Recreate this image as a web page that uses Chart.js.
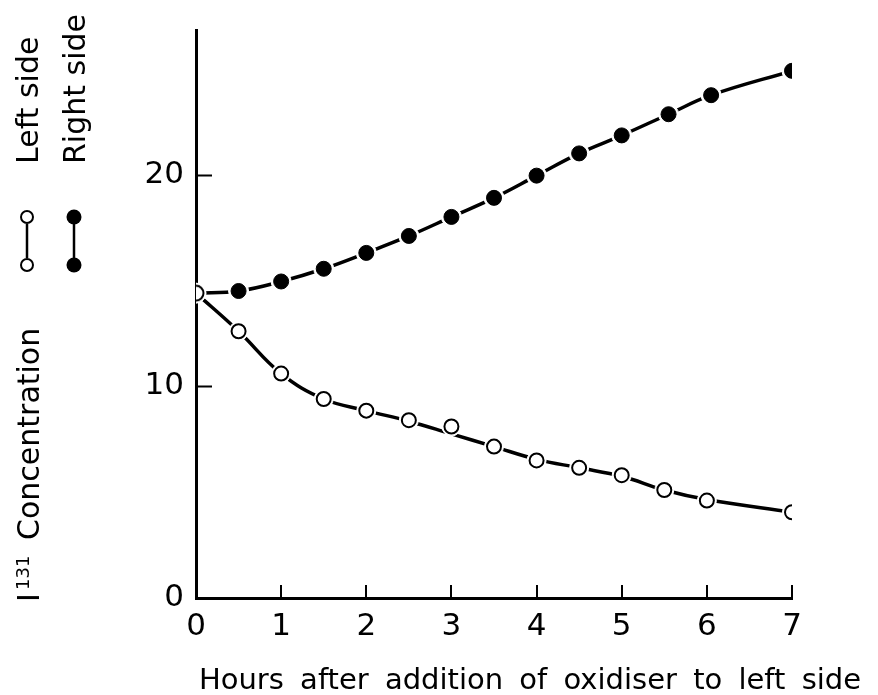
<!DOCTYPE html>
<html>
<head>
<meta charset="utf-8">
<script src="https://cdn.jsdelivr.net/npm/chart.js@4.4.1/dist/chart.umd.min.js"></script>
<style>
  html, body { margin: 0; padding: 0; background: #fff; }
  #c { display: block; }
</style>
</head>
<body>
<canvas id="c" width="878" height="695"></canvas>
<script>
// ---- data ----
const leftHours  = [0, 0.5, 1, 1.5, 2, 2.5, 3, 3.5, 4, 4.5, 5, 5.5, 6, 7];
const leftSide   = [14.4, 12.6, 10.6, 9.4, 8.85, 8.4, 8.1, 7.15, 6.5, 6.15, 5.8, 5.1, 4.6, 4.05];
const leftCurve  = [14.4, 12.6, 10.6, 9.4, 8.85, 8.35, 7.75, 7.15, 6.55, 6.15, 5.75, 5.1, 4.65, 4.05];
const rightHours = [0, 0.5, 1, 1.5, 2, 2.5, 3, 3.5, 4, 4.5, 5, 5.55, 6.05, 7];
const rightSide  = [14.4, 14.5, 14.95, 15.55, 16.3, 17.1, 18.0, 18.9, 19.95, 21.0, 21.85, 22.85, 23.75, 24.9];
const xTicks = [0, 1, 2, 3, 4, 5, 6, 7];
const yTicks = [0, 10, 20];
const xTitle = 'Hours after addition of oxidiser to left side';
const yTitleMain = 'Concentration';
const yTitleIso = 'I';
const yTitleSup = '131';
const legendLeft = 'Left side';
const legendRight = 'Right side';

const FONT = '"DejaVu Sans", sans-serif';
const pts = (xs, ys) => xs.map((x, i) => ({ x: x, y: ys[i] }));

// half open / half filled marker for the shared starting point
function halfMarker() {
  const cv = document.createElement('canvas');
  cv.width = 20; cv.height = 20;
  const g = cv.getContext('2d');
  g.beginPath(); g.arc(10, 10, 7.5, 0, Math.PI * 2); g.fillStyle = '#fff'; g.fill();
  g.beginPath(); g.moveTo(10, 10); g.arc(10, 10, 7.5, Math.PI / 2, Math.PI * 1.5); g.closePath();
  g.fillStyle = '#000'; g.fill();
  g.beginPath(); g.arc(10, 10, 7.5, 0, Math.PI * 2); g.lineWidth = 2; g.strokeStyle = '#000'; g.stroke();
  return cv;
}
const half = halfMarker();

const decorations = {
  id: 'decorations',
  afterDraw(chart) {
    const ctx = chart.ctx;
    const xs = chart.scales.x, ys = chart.scales.y;
    const x0 = xs.getPixelForValue(0), yb = ys.getPixelForValue(0);
    ctx.save();
    ctx.strokeStyle = '#000';
    ctx.lineWidth = 2;
    // inward ticks
    yTicks.forEach(v => {
      if (v === 0) return;
      const p = Math.round(ys.getPixelForValue(v)) + 0.5;
      ctx.beginPath(); ctx.moveTo(x0, p); ctx.lineTo(x0 + 16, p); ctx.stroke();
    });
    xTicks.forEach(v => {
      if (v === 0) return;
      const p = Math.round(xs.getPixelForValue(v));
      ctx.beginPath(); ctx.moveTo(p, yb); ctx.lineTo(p, yb - 13); ctx.stroke();
    });
    // x title
    ctx.fillStyle = '#000';
    ctx.font = '29px ' + FONT;
    ctx.textAlign = 'center';
    ctx.textBaseline = 'alphabetic';
    try { ctx.wordSpacing = '7px'; } catch (e) {}
    ctx.fillText(xTitle, 530, 689);
    try { ctx.wordSpacing = '0px'; } catch (e) {}
    // rotated y title + legend
    const rot = (txt, font, bx, by) => {
      ctx.save();
      ctx.font = font;
      ctx.textAlign = 'left';
      ctx.translate(bx, by);
      ctx.rotate(-Math.PI / 2);
      ctx.fillText(txt, 0, 0);
      ctx.restore();
    };
    rot(yTitleIso, '30px ' + FONT, 39, 602);
    rot(yTitleSup, '18px ' + FONT, 29, 590);
    rot(yTitleMain, '30px ' + FONT, 39, 540);
    rot(legendLeft, '30px ' + FONT, 38, 164);
    rot(legendRight, '30px ' + FONT, 85, 164);
    // legend markers
    ctx.lineWidth = 2.5;
    ctx.beginPath(); ctx.moveTo(27, 258); ctx.lineTo(27, 224); ctx.stroke();
    ctx.beginPath(); ctx.moveTo(74, 258); ctx.lineTo(74, 224); ctx.stroke();
    [217, 265].forEach(y => {
      ctx.beginPath(); ctx.arc(27, y, 6, 0, Math.PI * 2);
      ctx.fillStyle = '#fff'; ctx.fill(); ctx.lineWidth = 2; ctx.stroke();
      ctx.beginPath(); ctx.arc(74, y, 7.5, 0, Math.PI * 2);
      ctx.fillStyle = '#000'; ctx.fill();
    });
    ctx.restore();
  }
};

new Chart(document.getElementById('c'), {
  type: 'scatter',
  data: {
    datasets: [
      { // left fitted curve
        data: pts(leftHours, leftCurve), showLine: true, borderColor: '#000', borderWidth: 3.5,
        pointRadius: 0, tension: 0.4, order: 5
      },
      { // right fitted curve
        data: pts(rightHours, rightSide), showLine: true, borderColor: '#000', borderWidth: 3.5,
        pointRadius: 0, tension: 0.4, order: 5
      },
      { // white halos
        data: pts(leftHours, leftSide), showLine: false, pointRadius: 9.5,
        pointBackgroundColor: '#fff', pointBorderColor: '#fff', pointBorderWidth: 1, order: 3
      },
      {
        data: pts(rightHours, rightSide), showLine: false, pointRadius: 10,
        pointBackgroundColor: '#fff', pointBorderColor: '#fff', pointBorderWidth: 1, order: 3
      },
      { // left side: open circles
        data: pts(leftHours, leftSide), showLine: false,
        pointRadius: c => c.dataIndex === 0 ? 0 : 7,
        pointBackgroundColor: '#fff', pointBorderColor: '#000', pointBorderWidth: 2, order: 1
      },
      { // right side: filled circles
        data: pts(rightHours, rightSide), showLine: false,
        pointStyle: c => c.dataIndex === 0 ? half : 'circle',
        pointRadius: 7.5, pointBackgroundColor: '#000', pointBorderColor: '#000', pointBorderWidth: 1, order: 2
      }
    ]
  },
  options: {
    responsive: false,
    animation: false,
    events: [],
    layout: { padding: { left: 0, right: 86, top: 22, bottom: 0 } },
    plugins: { legend: { display: false }, tooltip: { enabled: false } },
    scales: {
      x: {
        type: 'linear', min: 0, max: 7,
        afterBuildTicks: s => { s.ticks = xTicks.map(v => ({ value: v })); },
        afterFit: s => { s.height = 97; },
        grid: { display: false, drawTicks: false },
        border: { display: true, color: '#000', width: 3 },
        ticks: { color: '#000', padding: 10, font: { family: FONT, size: 31 }, maxRotation: 0 }
      },
      y: {
        type: 'linear', min: 0, max: 26.8,
        afterBuildTicks: s => { s.ticks = yTicks.map(v => ({ value: v })); },
        afterFit: s => { s.width = 196; },
        grid: { display: false, drawTicks: false },
        border: { display: true, color: '#000', width: 3 },
        ticks: { color: '#000', padding: 12, font: { family: FONT, size: 31 } }
      }
    }
  },
  plugins: [decorations]
});
</script>
</body>
</html>
